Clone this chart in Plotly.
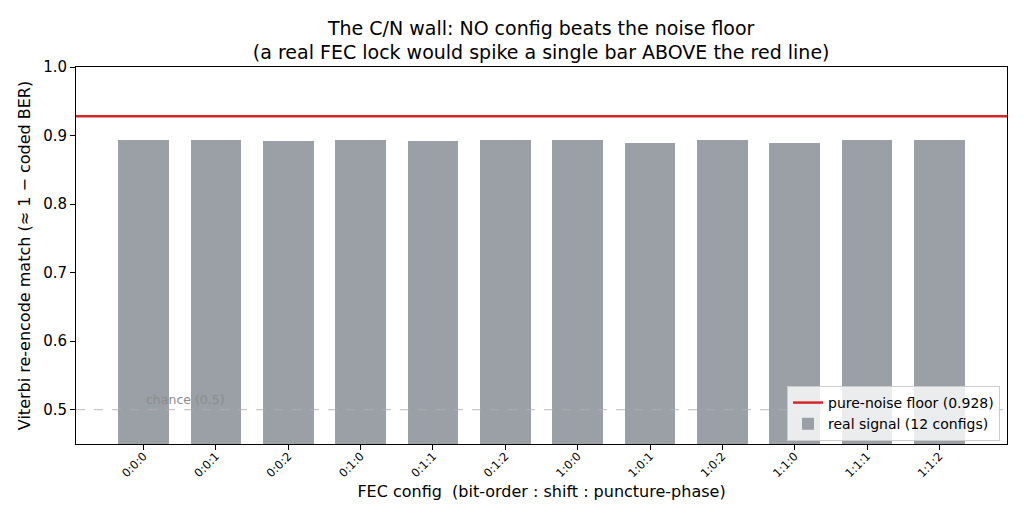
import plotly.graph_objects as go

configs = ["0:0:0", "0:0:1", "0:0:2", "0:1:0", "0:1:1", "0:1:2",
           "1:0:0", "1:0:1", "1:0:2", "1:1:0", "1:1:1", "1:1:2"]
match = [0.894, 0.894, 0.892, 0.894, 0.892, 0.894,
         0.894, 0.889, 0.894, 0.889, 0.894, 0.894]
noise_floor = 0.928
chance = 0.5
y_bottom = 0.45

FONT = "DejaVu Sans"
BAR = "#9aa0a6"
RED = "#d62728"

fig = go.Figure()
fig.add_trace(go.Scatter(x=[None], y=[None], mode="lines",
                         line=dict(color=RED, width=2.5),
                         name=f"pure-noise floor ({noise_floor:.3f})"))
fig.add_trace(go.Bar(x=configs, y=[v - y_bottom for v in match], base=y_bottom,
                     width=0.7, marker=dict(color=BAR, line=dict(width=0)),
                     name=f"real signal ({len(configs)} configs)",
                     customdata=match, hovertemplate="%{customdata}<extra></extra>"))

fig.add_hline(y=noise_floor, line=dict(color=RED, width=2.5))
fig.add_hline(y=chance, line=dict(color="#b0b0b0", width=0.9, dash="dash"))
fig.add_annotation(x=0, y=chance, xref="x", yref="y", text="chance (0.5)",
                   showarrow=False, xanchor="left", yanchor="bottom",
                   font=dict(family=FONT, size=12.5, color="#8c8c8c"), yshift=1)

fig.update_layout(
    width=1024, height=523,
    margin=dict(l=76, r=17, t=67, b=79),
    paper_bgcolor="white", plot_bgcolor="white",
    font=dict(family=FONT, size=14, color="black"),
    title=dict(text="The C/N wall: NO config beats the noise floor<br>(a real FEC lock would spike a single bar ABOVE the red line)",
               x=0.5285, xanchor="center", y=0.934, yanchor="top",
               font=dict(family=FONT, size=19)),
    showlegend=True,
    legend=dict(x=0.9925, y=0.008, xanchor="right", yanchor="bottom",
                bgcolor="rgba(255,255,255,0.8)", bordercolor="#cccccc", borderwidth=1,
                font=dict(family=FONT, size=14), traceorder="normal",
                itemwidth=30, tracegroupgap=0),
    bargap=0,
)
fig.update_xaxes(type="category", range=[-0.935, 11.935],
                 showline=True, linecolor="black", linewidth=1, mirror=True,
                 ticks="outside", ticklen=5, tickcolor="black",
                 tickangle=-45, tickfont=dict(family=FONT, size=11.5),
                 ticklabelstandoff=-5,
                 showgrid=False,
                 title=dict(text="FEC config\u00a0\u00a0(bit-order : shift : puncture-phase)",
                            font=dict(family=FONT, size=16), standoff=6))
fig.update_yaxes(range=[y_bottom, 1.0], tickvals=[0.5, 0.6, 0.7, 0.8, 0.9, 1.0],
                 tickformat=".1f",
                 showline=True, linecolor="black", linewidth=1, mirror=True,
                 ticks="outside", ticklen=5, tickcolor="black",
                 tickfont=dict(family=FONT, size=15), showgrid=False, zeroline=False,
                 title=dict(text="Viterbi re-encode match (≈ 1 − coded BER)",
                            font=dict(family=FONT, size=16), standoff=8))

fig.write_html("out.html")
